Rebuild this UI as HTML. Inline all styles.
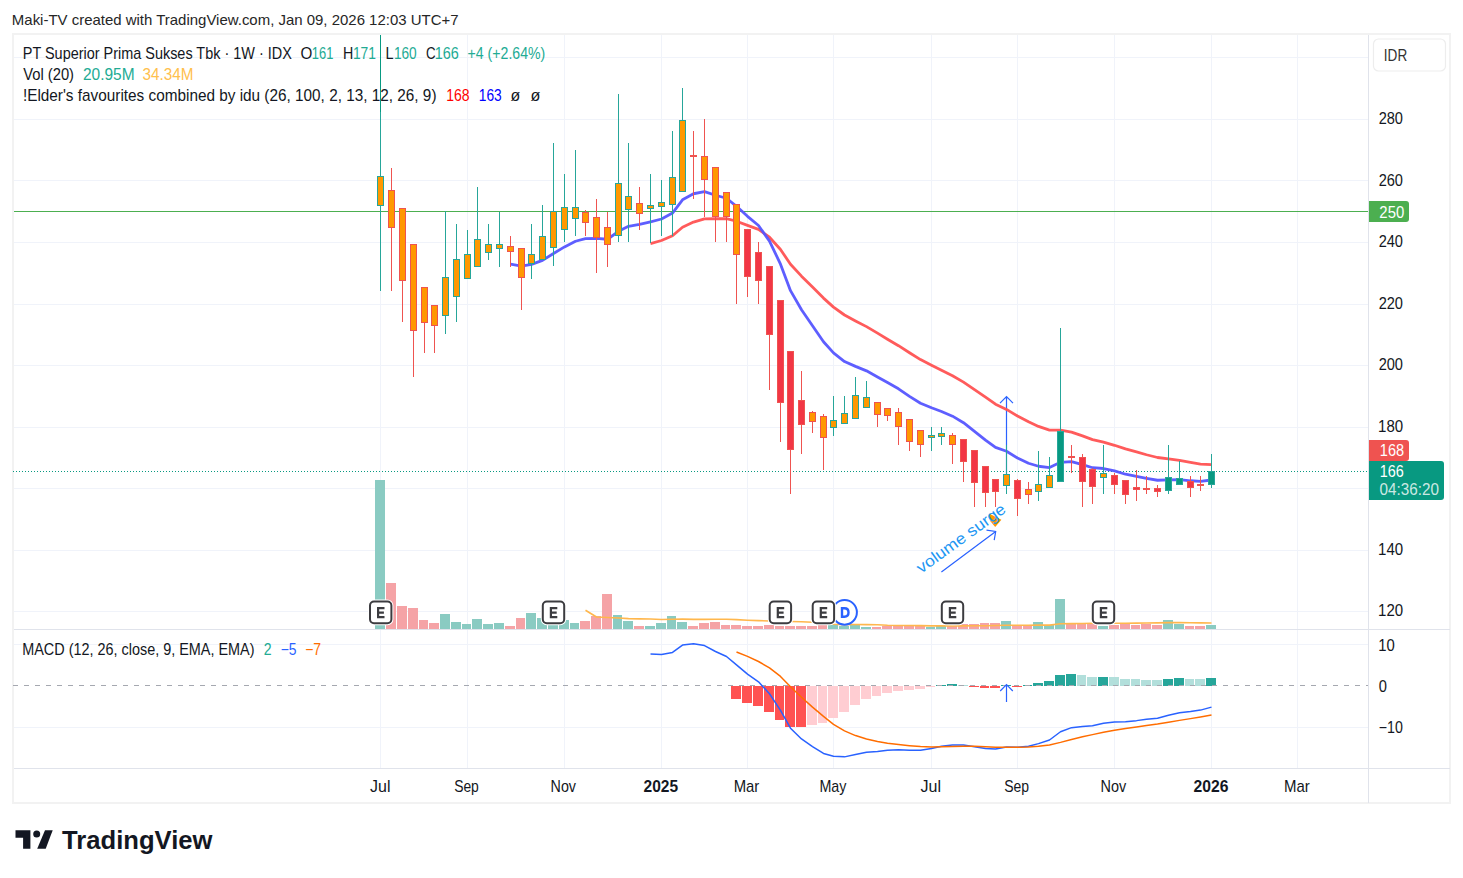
<!DOCTYPE html><html><head><meta charset="utf-8"><title>Chart</title><style>html,body{margin:0;padding:0;background:#fff;overflow:hidden}svg{display:block}text{font-family:"Liberation Sans",sans-serif}</style></head><body><svg width="1463" height="878" viewBox="0 0 1463 878" font-family="Liberation Sans, sans-serif"><rect x="0" y="0" width="1463" height="878" fill="#fff"/><rect x="13" y="34" width="1437" height="769" fill="#fff" stroke="#F2F2F2" stroke-width="2"/><path d="M14 57.5H1368 M14 119.5H1368 M14 180.5H1368 M14 242.5H1368 M14 304.5H1368 M14 365.5H1368 M14 427.5H1368 M14 488.5H1368 M14 550.5H1368 M14 611.5H1368 M14 644.5H1368 M14 727.5H1368 M380.5 35V768 M467.5 35V768 M564.5 35V768 M661.5 35V768 M747.5 35V768 M833.5 35V768 M931.5 35V768 M1017.5 35V768 M1114.5 35V768 M1211.5 35V768 M1297.5 35V768" stroke="#F0F3FA" stroke-width="1" fill="none" shape-rendering="crispEdges"/><path d="M14 629.5H1450M14 768.5H1450M1368.5 35V803" stroke="#E0E3EB" stroke-width="1" fill="none" shape-rendering="crispEdges"/><path d="M14 211.5H1368" stroke="#4CAF50" stroke-width="1" shape-rendering="crispEdges"/><path d="M13 471.5H1368" stroke="#089981" stroke-width="1" stroke-dasharray="1 2" shape-rendering="crispEdges"/><g shape-rendering="crispEdges"><rect x="375" y="480.0" width="10" height="148.9" fill="#8ACBC2"/><rect x="386" y="583.2" width="10" height="45.7" fill="#F5A3A6"/><rect x="397" y="606.1" width="10" height="22.8" fill="#F5A3A6"/><rect x="408" y="608.2" width="10" height="20.7" fill="#F5A3A6"/><rect x="419" y="620.0" width="9" height="8.9" fill="#F5A3A6"/><rect x="429" y="623.2" width="10" height="5.7" fill="#F5A3A6"/><rect x="440" y="614.2" width="10" height="14.7" fill="#8ACBC2"/><rect x="451" y="621.9" width="10" height="7.0" fill="#8ACBC2"/><rect x="462" y="624.1" width="9" height="4.8" fill="#8ACBC2"/><rect x="472" y="619.1" width="10" height="9.8" fill="#8ACBC2"/><rect x="483" y="624.1" width="10" height="4.8" fill="#8ACBC2"/><rect x="494" y="623.2" width="10" height="5.7" fill="#8ACBC2"/><rect x="505" y="626.2" width="10" height="2.7" fill="#F5A3A6"/><rect x="516" y="618.0" width="9" height="10.9" fill="#F5A3A6"/><rect x="526" y="613.0" width="10" height="15.9" fill="#8ACBC2"/><rect x="537" y="618.0" width="10" height="10.9" fill="#8ACBC2"/><rect x="548" y="617.0" width="10" height="11.9" fill="#8ACBC2"/><rect x="559" y="620.0" width="10" height="8.9" fill="#8ACBC2"/><rect x="570" y="623.0" width="9" height="5.9" fill="#8ACBC2"/><rect x="580" y="621.0" width="10" height="7.9" fill="#F5A3A6"/><rect x="591" y="616.0" width="10" height="12.9" fill="#F5A3A6"/><rect x="602" y="594.0" width="10" height="34.9" fill="#F5A3A6"/><rect x="613" y="615.1" width="9" height="13.8" fill="#8ACBC2"/><rect x="623" y="621.0" width="10" height="7.9" fill="#8ACBC2"/><rect x="634" y="626.0" width="10" height="2.9" fill="#F5A3A6"/><rect x="645" y="626.0" width="10" height="2.9" fill="#8ACBC2"/><rect x="656" y="623.0" width="10" height="5.9" fill="#8ACBC2"/><rect x="667" y="615.9" width="9" height="13.0" fill="#8ACBC2"/><rect x="677" y="621.8" width="10" height="7.1" fill="#8ACBC2"/><rect x="688" y="626.0" width="10" height="2.9" fill="#F5A3A6"/><rect x="699" y="623.0" width="10" height="5.9" fill="#F5A3A6"/><rect x="710" y="621.8" width="10" height="7.1" fill="#F5A3A6"/><rect x="721" y="625.0" width="9" height="3.9" fill="#F5A3A6"/><rect x="731" y="625.0" width="10" height="3.9" fill="#F5A3A6"/><rect x="742" y="626.0" width="10" height="2.9" fill="#F5A3A6"/><rect x="753" y="626.0" width="10" height="2.9" fill="#F5A3A6"/><rect x="764" y="625.2" width="10" height="3.7" fill="#F5A3A6"/><rect x="775" y="625.9" width="9" height="3.0" fill="#F5A3A6"/><rect x="785" y="625.9" width="10" height="3.0" fill="#F5A3A6"/><rect x="796" y="625.9" width="10" height="3.0" fill="#F5A3A6"/><rect x="807" y="625.9" width="10" height="3.0" fill="#F5A3A6"/><rect x="818" y="625.4" width="9" height="3.5" fill="#F5A3A6"/><rect x="828" y="625.2" width="10" height="3.7" fill="#8ACBC2"/><rect x="839" y="626.2" width="10" height="2.7" fill="#8ACBC2"/><rect x="850" y="625.2" width="10" height="3.7" fill="#8ACBC2"/><rect x="861" y="627.1" width="10" height="1.8" fill="#8ACBC2"/><rect x="872" y="627.1" width="9" height="1.8" fill="#F5A3A6"/><rect x="882" y="625.9" width="10" height="3.0" fill="#F5A3A6"/><rect x="893" y="625.9" width="10" height="3.0" fill="#F5A3A6"/><rect x="904" y="625.9" width="10" height="3.0" fill="#F5A3A6"/><rect x="915" y="625.9" width="10" height="3.0" fill="#F5A3A6"/><rect x="926" y="627.1" width="9" height="1.8" fill="#8ACBC2"/><rect x="936" y="625.9" width="10" height="3.0" fill="#8ACBC2"/><rect x="947" y="625.9" width="10" height="3.0" fill="#F5A3A6"/><rect x="958" y="624.4" width="10" height="4.5" fill="#F5A3A6"/><rect x="969" y="624.0" width="10" height="4.9" fill="#F5A3A6"/><rect x="980" y="623.0" width="9" height="5.9" fill="#F5A3A6"/><rect x="990" y="623.0" width="10" height="5.9" fill="#F5A3A6"/><rect x="1001" y="621.1" width="10" height="7.8" fill="#8ACBC2"/><rect x="1012" y="625.0" width="10" height="3.9" fill="#F5A3A6"/><rect x="1023" y="625.9" width="9" height="3.0" fill="#F5A3A6"/><rect x="1033" y="622.0" width="10" height="6.9" fill="#8ACBC2"/><rect x="1044" y="624.7" width="10" height="4.2" fill="#8ACBC2"/><rect x="1055" y="599.0" width="10" height="29.9" fill="#8ACBC2"/><rect x="1066" y="624.0" width="10" height="4.9" fill="#F5A3A6"/><rect x="1077" y="624.0" width="9" height="4.9" fill="#F5A3A6"/><rect x="1087" y="624.0" width="10" height="4.9" fill="#F5A3A6"/><rect x="1098" y="625.5" width="10" height="3.4" fill="#8ACBC2"/><rect x="1109" y="624.9" width="10" height="4.0" fill="#F5A3A6"/><rect x="1120" y="624.0" width="10" height="4.9" fill="#F5A3A6"/><rect x="1131" y="625.0" width="9" height="3.9" fill="#F5A3A6"/><rect x="1141" y="624.0" width="10" height="4.9" fill="#F5A3A6"/><rect x="1152" y="625.0" width="10" height="3.9" fill="#F5A3A6"/><rect x="1163" y="620.1" width="10" height="8.8" fill="#8ACBC2"/><rect x="1174" y="624.0" width="10" height="4.9" fill="#8ACBC2"/><rect x="1185" y="626.1" width="9" height="2.8" fill="#F5A3A6"/><rect x="1195" y="626.1" width="10" height="2.8" fill="#F5A3A6"/><rect x="1206" y="625.0" width="10" height="3.9" fill="#8ACBC2"/></g><polyline points="585.5,610.2 596.5,617.0 607.5,617.5 618.5,618.0 628.5,618.6 639.5,618.9 650.5,619.0 661.5,619.5 672.5,619.2 682.5,619.1 693.5,619.4 704.5,619.4 715.5,619.3 726.5,619.2 736.5,619.6 747.5,620.2 758.5,620.6 769.5,621.0 780.5,621.3 790.5,621.5 801.5,621.7 812.5,622.2 823.5,623.8 833.5,624.3 844.5,624.6 855.5,624.5 866.5,624.6 877.5,624.8 887.5,625.3 898.5,625.5 909.5,625.5 920.5,625.6 931.5,625.9 941.5,625.9 952.5,626.0 963.5,625.9 974.5,625.8 985.5,625.7 995.5,625.5 1006.5,625.3 1017.5,625.3 1028.5,625.3 1038.5,625.1 1049.5,625.1 1060.5,623.7 1071.5,623.6 1082.5,623.5 1092.5,623.3 1103.5,623.3 1114.5,623.3 1125.5,623.2 1136.5,623.1 1146.5,623.0 1157.5,622.9 1168.5,622.6 1179.5,622.6 1190.5,622.7 1200.5,622.9 1211.5,623.0" fill="none" stroke="#FFB74D" stroke-width="1.6" stroke-linejoin="round"/><path d="M1006.5 486V397M1000 403.2L1006.5 396.7L1013 403.2" stroke="#2962FF" stroke-width="1.2" fill="none"/><polyline points="650.50,243.53 661.50,240.49 672.50,235.81 682.50,227.27 693.50,222.08 704.50,218.92 715.50,218.73 726.50,218.56 736.50,221.23 747.50,225.33 758.50,229.43 769.50,237.21 780.50,249.46 790.50,264.28 801.50,276.15 812.50,286.93 823.50,298.09 833.50,307.13 844.50,315.01 855.50,320.95 866.50,326.62 877.50,333.11 887.50,339.21 898.50,345.68 909.50,352.77 920.50,359.57 931.50,365.18 941.50,370.23 952.50,375.73 963.50,382.11 974.50,389.56 985.50,397.20 995.50,404.20 1006.50,409.40 1017.50,416.00 1028.50,421.83 1038.50,426.45 1049.50,430.07 1060.50,430.15 1071.50,432.19 1082.50,435.86 1092.50,439.63 1103.50,442.12 1114.50,445.28 1125.50,448.93 1136.50,451.95 1146.50,454.75 1157.50,457.49 1168.50,458.95 1179.50,460.38 1190.50,462.42 1200.50,464.12 1211.50,464.65" fill="none" stroke="#FF5252" stroke-width="2.8" stroke-linejoin="round" stroke-linecap="butt" opacity="0.95"/><polyline points="510.50,264.12 521.50,266.02 531.50,264.37 542.50,260.42 553.50,253.45 564.50,246.88 575.50,241.26 585.50,238.55 596.50,238.37 607.50,239.25 618.50,231.28 628.50,226.33 639.50,224.47 650.50,221.77 661.50,219.00 672.50,213.06 682.50,199.84 693.50,193.75 704.50,191.70 715.50,195.23 726.50,198.25 736.50,206.30 747.50,216.34 758.50,225.52 769.50,241.09 780.50,264.16 790.50,290.64 801.50,309.76 812.50,325.75 823.50,341.73 833.50,352.94 844.50,361.58 855.50,366.40 866.50,370.84 877.50,377.03 887.50,382.51 898.50,388.81 909.50,396.33 920.50,403.21 931.50,407.79 941.50,411.45 952.50,416.17 963.50,422.69 974.50,431.28 985.50,440.05 995.50,447.42 1006.50,451.27 1017.50,458.03 1028.50,463.26 1038.50,466.26 1049.50,467.55 1060.50,462.35 1071.50,461.68 1082.50,464.56 1092.50,467.72 1103.50,468.52 1114.50,470.83 1125.50,474.22 1136.50,476.44 1146.50,478.33 1157.50,480.25 1168.50,479.82 1179.50,479.60 1190.50,480.77 1200.50,481.43 1211.50,479.99" fill="none" stroke="#5555FF" stroke-width="2.8" stroke-linejoin="round" stroke-linecap="butt" opacity="0.95"/><g shape-rendering="crispEdges"><path d="M380.5 34.5V290.9" stroke="#26A69A" stroke-width="1"/><rect x="377.5" y="176.5" width="6" height="29" fill="#FF9800" stroke="#26A69A" stroke-width="1"/><path d="M391.5 168.2V290.9" stroke="#EF5350" stroke-width="1"/><rect x="388.5" y="190.5" width="6" height="37" fill="#FF9800" stroke="#EF5350" stroke-width="1"/><path d="M402.5 208.1V321.6" stroke="#EF5350" stroke-width="1"/><rect x="399.5" y="208.5" width="6" height="72" fill="#FF9800" stroke="#EF5350" stroke-width="1"/><path d="M413.5 244.4V376.9" stroke="#EF5350" stroke-width="1"/><rect x="410.5" y="244.5" width="6" height="86" fill="#FF9800" stroke="#EF5350" stroke-width="1"/><path d="M424.5 287.5V352.7" stroke="#EF5350" stroke-width="1"/><rect x="421.5" y="287.5" width="6" height="35" fill="#FF9800" stroke="#EF5350" stroke-width="1"/><path d="M434.5 305.3V352.7" stroke="#EF5350" stroke-width="1"/><rect x="431.5" y="305.5" width="6" height="20" fill="#FF9800" stroke="#EF5350" stroke-width="1"/><path d="M445.5 211.4V333.8" stroke="#26A69A" stroke-width="1"/><rect x="442.5" y="277.5" width="6" height="38" fill="#FF9800" stroke="#26A69A" stroke-width="1"/><path d="M456.5 224.2V321.7" stroke="#26A69A" stroke-width="1"/><rect x="453.5" y="259.5" width="6" height="37" fill="#FF9800" stroke="#26A69A" stroke-width="1"/><path d="M467.5 230.1V278.6" stroke="#26A69A" stroke-width="1"/><rect x="464.5" y="254.5" width="6" height="24" fill="#FF9800" stroke="#26A69A" stroke-width="1"/><path d="M477.5 187.0V266.3" stroke="#26A69A" stroke-width="1"/><rect x="474.5" y="239.5" width="6" height="27" fill="#FF9800" stroke="#26A69A" stroke-width="1"/><path d="M488.5 224.3V259.8" stroke="#26A69A" stroke-width="1"/><rect x="485.5" y="244.5" width="6" height="8" fill="#FF9800" stroke="#26A69A" stroke-width="1"/><path d="M499.5 211.5V266.6" stroke="#26A69A" stroke-width="1"/><rect x="496.5" y="244.5" width="6" height="4" fill="#FF9800" stroke="#26A69A" stroke-width="1"/><path d="M510.5 236.3V266.5" stroke="#EF5350" stroke-width="1"/><rect x="507.5" y="246.5" width="6" height="5" fill="#FF9800" stroke="#EF5350" stroke-width="1"/><path d="M521.5 248.6V309.8" stroke="#EF5350" stroke-width="1"/><rect x="518.5" y="248.5" width="6" height="29" fill="#FF9800" stroke="#EF5350" stroke-width="1"/><path d="M531.5 224.4V278.6" stroke="#26A69A" stroke-width="1"/><rect x="528.5" y="254.5" width="6" height="9" fill="#FF9800" stroke="#26A69A" stroke-width="1"/><path d="M542.5 205.3V259.2" stroke="#26A69A" stroke-width="1"/><rect x="539.5" y="236.5" width="6" height="23" fill="#FF9800" stroke="#26A69A" stroke-width="1"/><path d="M553.5 143.3V266.4" stroke="#26A69A" stroke-width="1"/><rect x="550.5" y="211.5" width="6" height="36" fill="#FF9800" stroke="#26A69A" stroke-width="1"/><path d="M564.5 174.1V241.8" stroke="#26A69A" stroke-width="1"/><rect x="561.5" y="207.5" width="6" height="22" fill="#FF9800" stroke="#26A69A" stroke-width="1"/><path d="M575.5 150.1V235.6" stroke="#26A69A" stroke-width="1"/><rect x="572.5" y="207.5" width="6" height="11" fill="#FF9800" stroke="#26A69A" stroke-width="1"/><path d="M585.5 210.0V235.6" stroke="#EF5350" stroke-width="1"/><rect x="582.5" y="212.5" width="6" height="10" fill="#FF9800" stroke="#EF5350" stroke-width="1"/><path d="M596.5 199.3V272.6" stroke="#EF5350" stroke-width="1"/><rect x="593.5" y="217.5" width="6" height="20" fill="#FF9800" stroke="#EF5350" stroke-width="1"/><path d="M607.5 211.5V266.6" stroke="#EF5350" stroke-width="1"/><rect x="604.5" y="227.5" width="6" height="17" fill="#FF9800" stroke="#EF5350" stroke-width="1"/><path d="M618.5 94.2V241.6" stroke="#26A69A" stroke-width="1"/><rect x="615.5" y="183.5" width="6" height="52" fill="#FF9800" stroke="#26A69A" stroke-width="1"/><path d="M628.5 143.2V241.5" stroke="#26A69A" stroke-width="1"/><rect x="625.5" y="196.5" width="6" height="13" fill="#FF9800" stroke="#26A69A" stroke-width="1"/><path d="M639.5 187.2V229.5" stroke="#EF5350" stroke-width="1"/><rect x="636.5" y="203.5" width="6" height="10" fill="#FF9800" stroke="#EF5350" stroke-width="1"/><path d="M650.5 174.0V243.2" stroke="#26A69A" stroke-width="1"/><rect x="647.5" y="205.5" width="6" height="3" fill="#FF9800" stroke="#26A69A" stroke-width="1"/><path d="M661.5 180.3V235.5" stroke="#26A69A" stroke-width="1"/><rect x="658.5" y="202.5" width="6" height="4" fill="#FF9800" stroke="#26A69A" stroke-width="1"/><path d="M672.5 130.9V235.5" stroke="#26A69A" stroke-width="1"/><rect x="669.5" y="177.5" width="6" height="27" fill="#FF9800" stroke="#26A69A" stroke-width="1"/><path d="M682.5 88.0V191.4" stroke="#26A69A" stroke-width="1"/><rect x="679.5" y="120.5" width="6" height="71" fill="#FF9800" stroke="#26A69A" stroke-width="1"/><path d="M693.5 130.9V198.5" stroke="#EF5350" stroke-width="1"/><rect x="690.5" y="155.5" width="6" height="1" fill="#FF9800" stroke="#EF5350" stroke-width="1"/><path d="M704.5 119.3V216.7" stroke="#EF5350" stroke-width="1"/><rect x="701.5" y="156.5" width="6" height="23" fill="#FF9800" stroke="#EF5350" stroke-width="1"/><path d="M715.5 167.5V241.5" stroke="#EF5350" stroke-width="1"/><rect x="712.5" y="167.5" width="6" height="49" fill="#FF9800" stroke="#EF5350" stroke-width="1"/><path d="M726.5 192.4V241.5" stroke="#EF5350" stroke-width="1"/><rect x="723.5" y="192.5" width="6" height="24" fill="#FF9800" stroke="#EF5350" stroke-width="1"/><path d="M736.5 204.4V303.5" stroke="#EF5350" stroke-width="1"/><rect x="733.5" y="204.5" width="6" height="50" fill="#FF9800" stroke="#EF5350" stroke-width="1"/><path d="M747.5 229.1V296.8" stroke="#EF5350" stroke-width="1"/><rect x="744.5" y="229.5" width="6" height="47" fill="#F23645" stroke="#EF5350" stroke-width="1"/><path d="M758.5 242.0V303.6" stroke="#EF5350" stroke-width="1"/><rect x="755.5" y="252.5" width="6" height="28" fill="#F23645" stroke="#EF5350" stroke-width="1"/><path d="M769.5 266.0V389.8" stroke="#EF5350" stroke-width="1"/><rect x="766.5" y="266.5" width="6" height="68" fill="#F23645" stroke="#EF5350" stroke-width="1"/><path d="M780.5 300.0V441.9" stroke="#EF5350" stroke-width="1"/><rect x="777.5" y="300.5" width="6" height="102" fill="#F23645" stroke="#EF5350" stroke-width="1"/><path d="M790.5 351.2V493.8" stroke="#EF5350" stroke-width="1"/><rect x="787.5" y="351.5" width="6" height="98" fill="#F23645" stroke="#EF5350" stroke-width="1"/><path d="M801.5 371.0V453.9" stroke="#EF5350" stroke-width="1"/><rect x="798.5" y="400.5" width="6" height="24" fill="#F23645" stroke="#EF5350" stroke-width="1"/><path d="M812.5 411.2V432.9" stroke="#EF5350" stroke-width="1"/><rect x="809.5" y="412.5" width="6" height="9" fill="#FF9800" stroke="#EF5350" stroke-width="1"/><path d="M823.5 414.2V469.7" stroke="#EF5350" stroke-width="1"/><rect x="820.5" y="416.5" width="6" height="21" fill="#FF9800" stroke="#EF5350" stroke-width="1"/><path d="M833.5 396.1V435.9" stroke="#26A69A" stroke-width="1"/><rect x="830.5" y="420.5" width="6" height="7" fill="#FF9800" stroke="#26A69A" stroke-width="1"/><path d="M844.5 396.1V423.5" stroke="#26A69A" stroke-width="1"/><rect x="841.5" y="413.5" width="6" height="10" fill="#FF9800" stroke="#26A69A" stroke-width="1"/><path d="M855.5 377.0V418.5" stroke="#26A69A" stroke-width="1"/><rect x="852.5" y="395.5" width="6" height="23" fill="#FF9800" stroke="#26A69A" stroke-width="1"/><path d="M866.5 380.9V407.4" stroke="#26A69A" stroke-width="1"/><rect x="863.5" y="397.5" width="6" height="10" fill="#FF9800" stroke="#26A69A" stroke-width="1"/><path d="M877.5 402.6V426.9" stroke="#EF5350" stroke-width="1"/><rect x="874.5" y="402.5" width="6" height="12" fill="#FF9800" stroke="#EF5350" stroke-width="1"/><path d="M887.5 408.3V420.6" stroke="#EF5350" stroke-width="1"/><rect x="884.5" y="408.5" width="6" height="7" fill="#FF9800" stroke="#EF5350" stroke-width="1"/><path d="M898.5 408.2V444.6" stroke="#EF5350" stroke-width="1"/><rect x="895.5" y="412.5" width="6" height="14" fill="#FF9800" stroke="#EF5350" stroke-width="1"/><path d="M909.5 419.2V450.6" stroke="#EF5350" stroke-width="1"/><rect x="906.5" y="419.5" width="6" height="22" fill="#FF9800" stroke="#EF5350" stroke-width="1"/><path d="M920.5 430.4V456.5" stroke="#EF5350" stroke-width="1"/><rect x="917.5" y="430.5" width="6" height="14" fill="#FF9800" stroke="#EF5350" stroke-width="1"/><path d="M931.5 427.2V450.6" stroke="#26A69A" stroke-width="1"/><rect x="928.5" y="435.5" width="6" height="2" fill="#FF9800" stroke="#26A69A" stroke-width="1"/><path d="M941.5 427.2V444.5" stroke="#26A69A" stroke-width="1"/><rect x="938.5" y="433.5" width="6" height="3" fill="#FF9800" stroke="#26A69A" stroke-width="1"/><path d="M952.5 433.4V463.7" stroke="#EF5350" stroke-width="1"/><rect x="949.5" y="435.5" width="6" height="9" fill="#FF9800" stroke="#EF5350" stroke-width="1"/><path d="M963.5 439.3V481.7" stroke="#EF5350" stroke-width="1"/><rect x="960.5" y="439.5" width="6" height="22" fill="#F23645" stroke="#EF5350" stroke-width="1"/><path d="M974.5 450.1V506.7" stroke="#EF5350" stroke-width="1"/><rect x="971.5" y="450.5" width="6" height="32" fill="#F23645" stroke="#EF5350" stroke-width="1"/><path d="M985.5 466.2V506.7" stroke="#EF5350" stroke-width="1"/><rect x="982.5" y="466.5" width="6" height="26" fill="#F23645" stroke="#EF5350" stroke-width="1"/><path d="M995.5 479.1V506.7" stroke="#EF5350" stroke-width="1"/><rect x="992.5" y="479.5" width="6" height="12" fill="#F23645" stroke="#EF5350" stroke-width="1"/><path d="M1006.5 445.3V493.7" stroke="#26A69A" stroke-width="1"/><rect x="1003.5" y="474.5" width="6" height="11" fill="#FF9800" stroke="#26A69A" stroke-width="1"/><path d="M1017.5 479.1V515.6" stroke="#EF5350" stroke-width="1"/><rect x="1014.5" y="480.5" width="6" height="18" fill="#F23645" stroke="#EF5350" stroke-width="1"/><path d="M1028.5 482.1V504.0" stroke="#EF5350" stroke-width="1"/><rect x="1025.5" y="489.5" width="6" height="5" fill="#FF9800" stroke="#EF5350" stroke-width="1"/><path d="M1038.5 451.0V500.8" stroke="#26A69A" stroke-width="1"/><rect x="1035.5" y="484.5" width="6" height="7" fill="#FF9800" stroke="#26A69A" stroke-width="1"/><path d="M1049.5 457.0V487.7" stroke="#26A69A" stroke-width="1"/><rect x="1046.5" y="475.5" width="6" height="12" fill="#FF9800" stroke="#26A69A" stroke-width="1"/><path d="M1060.5 327.9V481.8" stroke="#26A69A" stroke-width="1"/><rect x="1057.5" y="431.5" width="6" height="50" fill="#089981" stroke="#26A69A" stroke-width="1"/><path d="M1071.5 445.1V472.6" stroke="#EF5350" stroke-width="1"/><rect x="1068.5" y="456.5" width="6" height="1" fill="#FF9800" stroke="#EF5350" stroke-width="1"/><path d="M1082.5 454.2V506.8" stroke="#EF5350" stroke-width="1"/><rect x="1079.5" y="457.5" width="6" height="24" fill="#F23645" stroke="#EF5350" stroke-width="1"/><path d="M1092.5 467.5V504.0" stroke="#EF5350" stroke-width="1"/><rect x="1089.5" y="469.5" width="6" height="17" fill="#F23645" stroke="#EF5350" stroke-width="1"/><path d="M1103.5 445.1V493.8" stroke="#26A69A" stroke-width="1"/><rect x="1100.5" y="473.5" width="6" height="4" fill="#FF9800" stroke="#26A69A" stroke-width="1"/><path d="M1114.5 473.0V493.8" stroke="#EF5350" stroke-width="1"/><rect x="1111.5" y="475.5" width="6" height="9" fill="#F23645" stroke="#EF5350" stroke-width="1"/><path d="M1125.5 480.1V503.7" stroke="#EF5350" stroke-width="1"/><rect x="1122.5" y="480.5" width="6" height="14" fill="#F23645" stroke="#EF5350" stroke-width="1"/><path d="M1136.5 470.1V500.9" stroke="#EF5350" stroke-width="1"/><rect x="1133.5" y="487.5" width="6" height="2" fill="#F23645" stroke="#EF5350" stroke-width="1"/><path d="M1146.5 476.0V493.8" stroke="#EF5350" stroke-width="1"/><rect x="1143" y="488" width="7" height="2" fill="#EF5350"/><path d="M1157.5 485.1V496.9" stroke="#EF5350" stroke-width="1"/><rect x="1154.5" y="488.5" width="6" height="3" fill="#F23645" stroke="#EF5350" stroke-width="1"/><path d="M1168.5 445.1V493.8" stroke="#26A69A" stroke-width="1"/><rect x="1165.5" y="477.5" width="6" height="13" fill="#089981" stroke="#26A69A" stroke-width="1"/><path d="M1179.5 461.0V484.7" stroke="#26A69A" stroke-width="1"/><rect x="1176.5" y="478.5" width="6" height="6" fill="#089981" stroke="#26A69A" stroke-width="1"/><path d="M1190.5 476.0V496.9" stroke="#EF5350" stroke-width="1"/><rect x="1187.5" y="481.5" width="6" height="6" fill="#F23645" stroke="#EF5350" stroke-width="1"/><path d="M1200.5 476.0V490.8" stroke="#EF5350" stroke-width="1"/><rect x="1197" y="484" width="7" height="2" fill="#EF5350"/><path d="M1211.5 453.9V488.0" stroke="#26A69A" stroke-width="1"/><rect x="1208.5" y="471.5" width="6" height="13" fill="#089981" stroke="#26A69A" stroke-width="1"/></g><g shape-rendering="crispEdges"><rect x="731" y="685.5" width="10" height="13.0" fill="#FF5252"/><rect x="742" y="685.5" width="10" height="17.8" fill="#FF5252"/><rect x="753" y="685.5" width="10" height="20.5" fill="#FF5252"/><rect x="764" y="685.5" width="10" height="26.0" fill="#FF5252"/><rect x="775" y="685.5" width="9" height="34.1" fill="#FF5252"/><rect x="785" y="685.5" width="10" height="41.6" fill="#FF5252"/><rect x="796" y="685.5" width="10" height="41.9" fill="#FF5252"/><rect x="807" y="685.5" width="10" height="39.6" fill="#FFCDD2"/><rect x="818" y="685.5" width="9" height="37.2" fill="#FFCDD2"/><rect x="828" y="685.5" width="10" height="32.0" fill="#FFCDD2"/><rect x="839" y="685.5" width="10" height="26.2" fill="#FFCDD2"/><rect x="850" y="685.5" width="10" height="19.2" fill="#FFCDD2"/><rect x="861" y="685.5" width="10" height="13.5" fill="#FFCDD2"/><rect x="872" y="685.5" width="9" height="10.2" fill="#FFCDD2"/><rect x="882" y="685.5" width="10" height="7.2" fill="#FFCDD2"/><rect x="893" y="685.5" width="10" height="5.4" fill="#FFCDD2"/><rect x="904" y="685.5" width="10" height="4.8" fill="#FFCDD2"/><rect x="915" y="685.5" width="10" height="3.8" fill="#FFCDD2"/><rect x="926" y="685.5" width="9" height="1.7" fill="#FFCDD2"/><rect x="936" y="685.1" width="10" height="1.0" fill="#26A69A"/><rect x="947" y="684.1" width="10" height="1.4" fill="#26A69A"/><rect x="958" y="684.6" width="10" height="1.0" fill="#B2DFDB"/><rect x="969" y="685.5" width="10" height="1.3" fill="#FF5252"/><rect x="980" y="685.5" width="9" height="2.0" fill="#FF5252"/><rect x="990" y="685.5" width="10" height="2.0" fill="#FF5252"/><rect x="1001" y="685.4" width="10" height="1.0" fill="#26A69A"/><rect x="1012" y="685.5" width="10" height="1.0" fill="#FF5252"/><rect x="1023" y="684.9" width="9" height="1.0" fill="#26A69A"/><rect x="1033" y="683.0" width="10" height="2.5" fill="#26A69A"/><rect x="1044" y="680.6" width="10" height="4.9" fill="#26A69A"/><rect x="1055" y="675.0" width="10" height="10.5" fill="#26A69A"/><rect x="1066" y="673.9" width="10" height="11.6" fill="#26A69A"/><rect x="1077" y="675.3" width="9" height="10.2" fill="#B2DFDB"/><rect x="1087" y="676.8" width="10" height="8.7" fill="#B2DFDB"/><rect x="1098" y="676.5" width="10" height="9.0" fill="#26A69A"/><rect x="1109" y="677.4" width="10" height="8.1" fill="#B2DFDB"/><rect x="1120" y="678.9" width="10" height="6.6" fill="#B2DFDB"/><rect x="1131" y="679.3" width="9" height="6.2" fill="#B2DFDB"/><rect x="1141" y="679.5" width="10" height="6.0" fill="#B2DFDB"/><rect x="1152" y="679.8" width="10" height="5.7" fill="#B2DFDB"/><rect x="1163" y="678.7" width="10" height="6.8" fill="#26A69A"/><rect x="1174" y="678.1" width="10" height="7.4" fill="#26A69A"/><rect x="1185" y="678.6" width="9" height="6.9" fill="#B2DFDB"/><rect x="1195" y="678.8" width="10" height="6.7" fill="#B2DFDB"/><rect x="1206" y="677.8" width="10" height="7.7" fill="#26A69A"/></g><path d="M13 685.5H1368" stroke="#A5A8B0" stroke-width="1" stroke-dasharray="5 6" shape-rendering="crispEdges"/><polyline points="650.50,654.02 661.50,654.44 672.50,652.42 682.50,645.07 693.50,643.74 704.50,645.57 715.50,651.47 726.50,656.47 736.50,664.86 747.50,674.05 758.50,681.81 769.50,693.76 780.50,710.40 790.50,728.22 801.50,738.99 812.50,746.53 823.50,753.45 833.50,756.23 844.50,756.86 855.50,754.59 866.50,752.26 877.50,751.48 887.50,750.25 898.50,749.76 909.50,750.25 920.50,750.23 931.50,748.49 941.50,746.20 952.50,744.91 963.50,745.10 974.50,746.84 985.50,748.58 995.50,749.11 1006.50,746.94 1017.50,747.15 1028.50,746.19 1038.50,743.63 1049.50,740.00 1060.50,731.75 1071.50,727.64 1082.50,726.54 1092.50,725.75 1103.50,723.22 1114.50,722.05 1125.50,721.78 1136.50,720.63 1146.50,719.33 1157.50,718.16 1168.50,715.29 1179.50,712.82 1190.50,711.61 1200.50,710.10 1211.50,707.12" fill="none" stroke="#2962FF" stroke-width="1.5" stroke-linejoin="round" stroke-linecap="butt"/><polyline points="736.50,652.00 747.50,656.41 758.50,661.49 769.50,667.95 780.50,676.44 790.50,686.79 801.50,697.23 812.50,707.09 823.50,716.36 833.50,724.34 844.50,730.84 855.50,735.59 866.50,738.92 877.50,741.43 887.50,743.20 898.50,744.51 909.50,745.66 920.50,746.57 931.50,746.96 941.50,746.80 952.50,746.43 963.50,746.16 974.50,746.30 985.50,746.75 995.50,747.23 1006.50,747.17 1017.50,747.16 1028.50,746.97 1038.50,746.30 1049.50,745.04 1060.50,742.38 1071.50,739.43 1082.50,736.85 1092.50,734.63 1103.50,732.35 1114.50,730.29 1125.50,728.59 1136.50,727.00 1146.50,725.46 1157.50,724.00 1168.50,722.26 1179.50,720.37 1190.50,718.62 1200.50,716.92 1211.50,714.96" fill="none" stroke="#FF6D00" stroke-width="1.5" stroke-linejoin="round" stroke-linecap="butt"/><path d="M1006.5 702V685M1000.2 691L1006.5 684.6L1012.8 691" stroke="#2962FF" stroke-width="1.2" fill="none"/><path d="M941.4 572L995.7 531.5M986.5 530.2L995.7 531.5L994.2 540.2" stroke="#2962FF" stroke-width="1.2" fill="none"/><circle cx="844.6" cy="612.35" r="12.3" fill="#fff" stroke="#2962FF" stroke-width="2"/><path d="M842.0 608.2H844.4Q848.5 608.2 848.5 612.45Q848.5 616.7 844.4 616.7H842.0Z" stroke="#2962FF" stroke-width="2.4" fill="none"/><rect x="369.0" y="600.6" width="23.4" height="23.6" rx="5" fill="#fff" stroke="#fff" stroke-width="2"/><rect x="370.0" y="601.6" width="21.4" height="21.6" rx="4" fill="#fff" stroke="#3C3C40" stroke-width="2"/><path d="M384.5 608.2H378.1V617.2H384.5M378.1 612.7H383.9" stroke="#3C3C40" stroke-width="2.2" fill="none"/><rect x="541.8" y="600.6" width="23.4" height="23.6" rx="5" fill="#fff" stroke="#fff" stroke-width="2"/><rect x="542.8" y="601.6" width="21.4" height="21.6" rx="4" fill="#fff" stroke="#3C3C40" stroke-width="2"/><path d="M557.3 608.2H550.9V617.2H557.3M550.9 612.7H556.7" stroke="#3C3C40" stroke-width="2.2" fill="none"/><rect x="768.7" y="600.6" width="23.4" height="23.6" rx="5" fill="#fff" stroke="#fff" stroke-width="2"/><rect x="769.7" y="601.6" width="21.4" height="21.6" rx="4" fill="#fff" stroke="#3C3C40" stroke-width="2"/><path d="M784.2 608.2H777.8V617.2H784.2M777.8 612.7H783.6" stroke="#3C3C40" stroke-width="2.2" fill="none"/><rect x="811.7" y="600.6" width="23.4" height="23.6" rx="5" fill="#fff" stroke="#fff" stroke-width="2"/><rect x="812.7" y="601.6" width="21.4" height="21.6" rx="4" fill="#fff" stroke="#3C3C40" stroke-width="2"/><path d="M827.2 608.2H820.8V617.2H827.2M820.8 612.7H826.6" stroke="#3C3C40" stroke-width="2.2" fill="none"/><rect x="940.8" y="600.6" width="23.4" height="23.6" rx="5" fill="#fff" stroke="#fff" stroke-width="2"/><rect x="941.8" y="601.6" width="21.4" height="21.6" rx="4" fill="#fff" stroke="#3C3C40" stroke-width="2"/><path d="M956.3 608.2H949.9V617.2H956.3M949.9 612.7H955.7" stroke="#3C3C40" stroke-width="2.2" fill="none"/><rect x="1091.8" y="600.6" width="23.4" height="23.6" rx="5" fill="#fff" stroke="#fff" stroke-width="2"/><rect x="1092.8" y="601.6" width="21.4" height="21.6" rx="4" fill="#fff" stroke="#3C3C40" stroke-width="2"/><path d="M1107.3 608.2H1100.9V617.2H1107.3M1100.9 612.7H1106.7" stroke="#3C3C40" stroke-width="2.2" fill="none"/><path d="M1369 201H1406Q1409 201 1409 204V219Q1409 222 1406 222H1369Z" fill="#4CAF50"/><path d="M1369 440H1406Q1409 440 1409 443V458Q1409 461 1406 461H1369Z" fill="#EF5350"/><path d="M1369 461H1441Q1444 461 1444 464V497Q1444 500 1441 500H1369Z" fill="#089981"/><rect x="1373.5" y="39" width="72" height="32" rx="5" fill="#fff" stroke="#EDEDED" stroke-width="1.2"/><path d="M989 513.5L1001.4 519.7L995.2 526.9L990 520.7Z" fill="#FF9800"/><path d="M15.5 830.3H30.4V848.8H23.1V837.8H15.5Z" fill="#131722"/><circle cx="36.7" cy="834" r="3.5" fill="#131722"/><path d="M45 830.3H52.7L45.7 848.8H37.2Z" fill="#131722"/><text x="22.79" y="58.9" font-size="15.7" fill="#131722" font-weight="normal" textLength="269.05" lengthAdjust="spacingAndGlyphs" >PT Superior Prima Sukses Tbk · 1W · IDX</text><text x="300.40" y="58.9" font-size="15.7" fill="#131722" font-weight="normal" textLength="11.82" lengthAdjust="spacingAndGlyphs" >O</text><text x="311.84" y="58.9" font-size="15.7" fill="#22AB94" font-weight="normal" textLength="21.52" lengthAdjust="spacingAndGlyphs" >161</text><text x="342.93" y="58.9" font-size="15.7" fill="#131722" font-weight="normal" textLength="10.30" lengthAdjust="spacingAndGlyphs" >H</text><text x="352.90" y="58.9" font-size="15.7" fill="#22AB94" font-weight="normal" textLength="23.04" lengthAdjust="spacingAndGlyphs" >171</text><text x="385.38" y="58.9" font-size="15.7" fill="#131722" font-weight="normal" textLength="8.06" lengthAdjust="spacingAndGlyphs" >L</text><text x="393.90" y="58.9" font-size="15.7" fill="#22AB94" font-weight="normal" textLength="22.80" lengthAdjust="spacingAndGlyphs" >160</text><text x="425.90" y="58.9" font-size="15.7" fill="#131722" font-weight="normal" textLength="9.63" lengthAdjust="spacingAndGlyphs" >C</text><text x="434.81" y="58.9" font-size="15.7" fill="#22AB94" font-weight="normal" textLength="24.10" lengthAdjust="spacingAndGlyphs" >166</text><text x="467.60" y="58.9" font-size="15.7" fill="#22AB94" font-weight="normal" textLength="77.68" lengthAdjust="spacingAndGlyphs" >+4 (+2.64%)</text><text x="23.14" y="79.6" font-size="15.7" fill="#131722" font-weight="normal" textLength="50.93" lengthAdjust="spacingAndGlyphs" >Vol (20)</text><text x="82.93" y="79.6" font-size="15.7" fill="#22AB94" font-weight="normal" textLength="51.60" lengthAdjust="spacingAndGlyphs" >20.95M</text><text x="142.49" y="79.6" font-size="15.7" fill="#FFC04D" font-weight="normal" textLength="50.88" lengthAdjust="spacingAndGlyphs" >34.34M</text><text x="22.91" y="100.7" font-size="15.7" fill="#131722" font-weight="normal" textLength="413.60" lengthAdjust="spacingAndGlyphs" >!Elder's favourites combined by idu (26, 100, 2, 13, 12, 26, 9)</text><text x="446.13" y="100.7" font-size="15.7" fill="#FF0000" font-weight="normal" textLength="23.40" lengthAdjust="spacingAndGlyphs" >168</text><text x="478.82" y="100.7" font-size="15.7" fill="#0000FF" font-weight="normal" textLength="22.96" lengthAdjust="spacingAndGlyphs" >163</text><text x="510.63" y="100.7" font-size="15.7" fill="#131722" font-weight="normal" textLength="9.74" lengthAdjust="spacingAndGlyphs" >ø</text><text x="530.43" y="100.7" font-size="15.7" fill="#131722" font-weight="normal" textLength="9.86" lengthAdjust="spacingAndGlyphs" >ø</text><text x="22.18" y="655.1" font-size="15.7" fill="#131722" font-weight="normal" textLength="232.35" lengthAdjust="spacingAndGlyphs" >MACD (12, 26, close, 9, EMA, EMA)</text><text x="263.65" y="655.1" font-size="15.7" fill="#22AB94" font-weight="normal" textLength="7.84" lengthAdjust="spacingAndGlyphs" >2</text><text x="280.63" y="655.1" font-size="15.7" fill="#2962FF" font-weight="normal" textLength="15.89" lengthAdjust="spacingAndGlyphs" >−5</text><text x="305.21" y="655.1" font-size="15.7" fill="#FF6D00" font-weight="normal" textLength="15.95" lengthAdjust="spacingAndGlyphs" >−7</text><text x="11.86" y="24.7" font-size="15.0" fill="#262626" font-weight="normal" textLength="446.65" lengthAdjust="spacingAndGlyphs" >Maki-TV created with TradingView.com, Jan 09, 2026 12:03 UTC+7</text><text x="1378.64" y="124.10000000000001" font-size="16.2" fill="#131722" font-weight="normal" textLength="24.36" lengthAdjust="spacingAndGlyphs" >280</text><text x="1378.64" y="185.6" font-size="16.2" fill="#131722" font-weight="normal" textLength="24.36" lengthAdjust="spacingAndGlyphs" >260</text><text x="1378.64" y="247.1" font-size="16.2" fill="#131722" font-weight="normal" textLength="24.36" lengthAdjust="spacingAndGlyphs" >240</text><text x="1378.64" y="308.59999999999997" font-size="16.2" fill="#131722" font-weight="normal" textLength="24.36" lengthAdjust="spacingAndGlyphs" >220</text><text x="1378.64" y="370.2" font-size="16.2" fill="#131722" font-weight="normal" textLength="24.36" lengthAdjust="spacingAndGlyphs" >200</text><text x="1378.10" y="431.7" font-size="16.2" fill="#131722" font-weight="normal" textLength="25.06" lengthAdjust="spacingAndGlyphs" >180</text><text x="1378.10" y="554.7" font-size="16.2" fill="#131722" font-weight="normal" textLength="25.06" lengthAdjust="spacingAndGlyphs" >140</text><text x="1378.10" y="616.3000000000001" font-size="16.2" fill="#131722" font-weight="normal" textLength="25.06" lengthAdjust="spacingAndGlyphs" >120</text><text x="1378.37" y="650.6" font-size="16.2" fill="#131722" font-weight="normal" textLength="16.50" lengthAdjust="spacingAndGlyphs" >10</text><text x="1378.87" y="692.0" font-size="16.2" fill="#131722" font-weight="normal" textLength="8.18" lengthAdjust="spacingAndGlyphs" >0</text><text x="1378.71" y="732.6" font-size="16.2" fill="#131722" font-weight="normal" textLength="24.10" lengthAdjust="spacingAndGlyphs" >−10</text><text x="370.08" y="791.9" font-size="16.2" fill="#131722" font-weight="normal" textLength="20.42" lengthAdjust="spacingAndGlyphs" >Jul</text><text x="454.13" y="791.9" font-size="16.2" fill="#131722" font-weight="normal" textLength="24.72" lengthAdjust="spacingAndGlyphs" >Sep</text><text x="550.60" y="791.9" font-size="16.2" fill="#131722" font-weight="normal" textLength="25.42" lengthAdjust="spacingAndGlyphs" >Nov</text><text x="643.54" y="791.9" font-size="16.2" fill="#131722" font-weight="bold" textLength="34.53" lengthAdjust="spacingAndGlyphs" >2025</text><text x="733.66" y="791.9" font-size="16.2" fill="#131722" font-weight="normal" textLength="25.65" lengthAdjust="spacingAndGlyphs" >Mar</text><text x="819.39" y="791.9" font-size="16.2" fill="#131722" font-weight="normal" textLength="27.03" lengthAdjust="spacingAndGlyphs" >May</text><text x="920.48" y="791.9" font-size="16.2" fill="#131722" font-weight="normal" textLength="20.50" lengthAdjust="spacingAndGlyphs" >Jul</text><text x="1004.29" y="791.9" font-size="16.2" fill="#131722" font-weight="normal" textLength="24.86" lengthAdjust="spacingAndGlyphs" >Sep</text><text x="1100.56" y="791.9" font-size="16.2" fill="#131722" font-weight="normal" textLength="25.64" lengthAdjust="spacingAndGlyphs" >Nov</text><text x="1193.54" y="791.9" font-size="16.2" fill="#131722" font-weight="bold" textLength="34.89" lengthAdjust="spacingAndGlyphs" >2026</text><text x="1284.08" y="791.9" font-size="16.2" fill="#131722" font-weight="normal" textLength="25.78" lengthAdjust="spacingAndGlyphs" >Mar</text><text x="1379.36" y="217.5" font-size="16.2" fill="#fff" font-weight="normal" textLength="24.84" lengthAdjust="spacingAndGlyphs" >250</text><text x="1379.82" y="456.4" font-size="16.2" fill="#fff" font-weight="normal" textLength="24.21" lengthAdjust="spacingAndGlyphs" >168</text><text x="1379.82" y="477.4" font-size="16.2" fill="#fff" font-weight="normal" textLength="24.04" lengthAdjust="spacingAndGlyphs" >166</text><text x="1379.53" y="495.3" font-size="16.2" fill="#fff" font-weight="normal" textLength="59.36" lengthAdjust="spacingAndGlyphs" fill-opacity="0.8">04:36:20</text><text x="1383.85" y="61.0" font-size="16.2" fill="#333" font-weight="normal" textLength="23.34" lengthAdjust="spacingAndGlyphs" >IDR</text><g transform="translate(921.5,573.5) rotate(-35.9)"><text x="-0.23" y="0" font-size="16" fill="#2196F3" font-weight="normal" textLength="105.78" lengthAdjust="spacingAndGlyphs" >volume surge</text></g><text x="62.14" y="849.4" font-size="25" fill="#131722" font-weight="bold" textLength="150.39" lengthAdjust="spacingAndGlyphs" >TradingView</text><path d="M380.5 34.5V112" stroke="#089981" stroke-width="1" shape-rendering="crispEdges"/></svg></body></html>
